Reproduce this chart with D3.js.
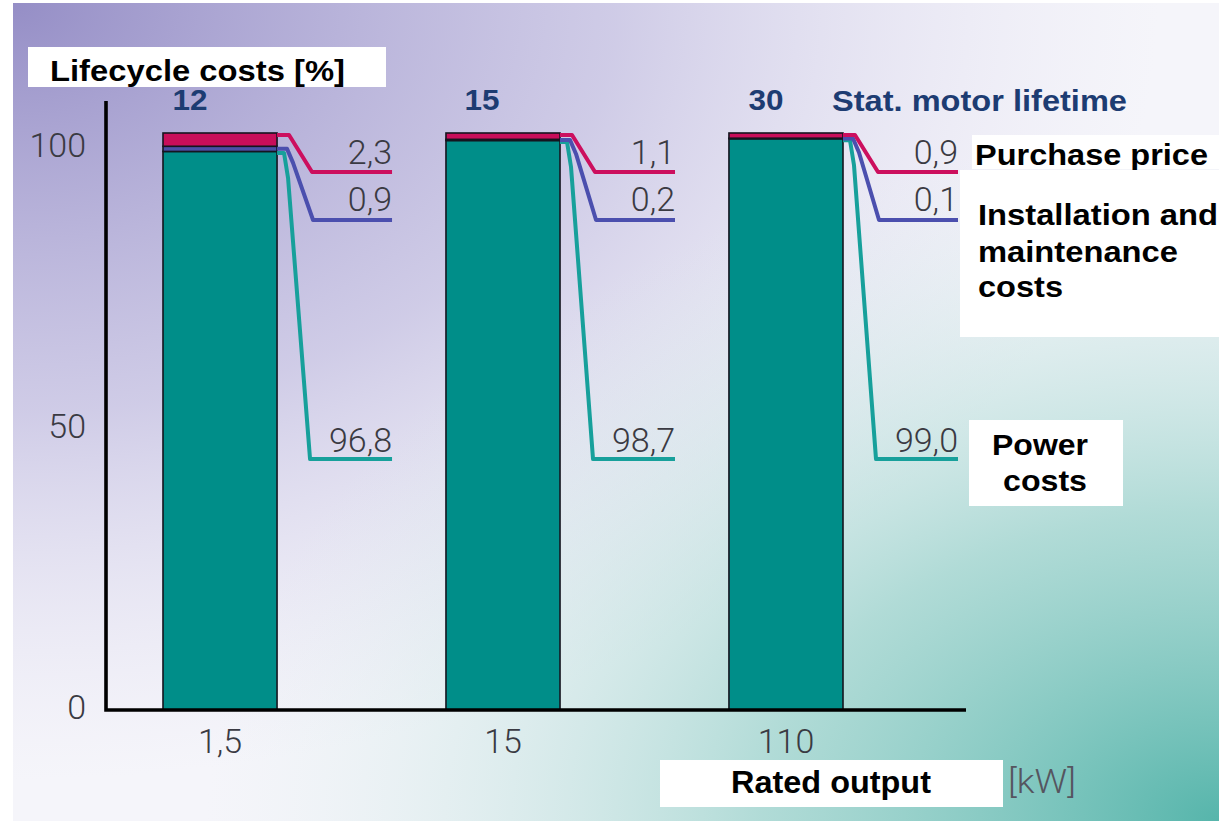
<!DOCTYPE html>
<html><head><meta charset="utf-8">
<script src="https://cdn.jsdelivr.net/npm/d3@7"></script>
<style>html,body{margin:0;padding:0;background:#fff;overflow:hidden}</style>
</head><body><svg id="chart" width="1226" height="823"></svg>
<script>
// ---- data ----
const categories = ["1,5", "15", "110"];          // rated output [kW]
const lifetimes = ["12", "15", "30"];             // stat. motor lifetime [years]
const purchasePrice = [2.3, 1.1, 0.9];
const installMaint = [0.9, 0.2, 0.1];
const powerCosts = [96.8, 98.7, 99.0];
const yTickValues = [0, 50, 100];

// ---- setup ----
const svg = d3.select("#chart");
const defs = svg.append("defs");
const numFont = "Roboto, Liberation Sans, Arial, sans-serif";
const boldFont = "Liberation Sans, Arial, sans-serif";

const gPurple = defs.append("radialGradient").attr("id", "gPurple")
  .attr("gradientUnits", "objectBoundingBox").attr("cx", 0).attr("cy", 0).attr("r", 1).attr("fx", 0).attr("fy", 0);
gPurple.append("stop").attr("offset", 0).attr("stop-color", "#958ec6").attr("stop-opacity", 1);
gPurple.append("stop").attr("offset", 0.5).attr("stop-color", "#b6b0da").attr("stop-opacity", 0.6);
gPurple.append("stop").attr("offset", 0.95).attr("stop-color", "#dcd8ee").attr("stop-opacity", 0);

const gTeal = defs.append("radialGradient").attr("id", "gTeal")
  .attr("gradientUnits", "objectBoundingBox").attr("cx", 1).attr("cy", 1).attr("r", 0.84).attr("fx", 1).attr("fy", 1);
gTeal.append("stop").attr("offset", 0).attr("stop-color", "#56b5ab").attr("stop-opacity", 1);
gTeal.append("stop").attr("offset", 0.45).attr("stop-color", "#96d1c9").attr("stop-opacity", 0.72);
gTeal.append("stop").attr("offset", 1).attr("stop-color", "#dceeec").attr("stop-opacity", 0);

const bg = { x: 13, y: 3, w: 1206, h: 818 };
svg.append("rect").attr("x", bg.x).attr("y", bg.y).attr("width", bg.w).attr("height", bg.h).attr("fill", "#f5f5fa");
svg.append("rect").attr("x", bg.x).attr("y", bg.y).attr("width", bg.w).attr("height", bg.h).attr("fill", "url(#gPurple)");
svg.append("rect").attr("x", bg.x).attr("y", bg.y).attr("width", bg.w).attr("height", bg.h).attr("fill", "url(#gTeal)");

// ---- scales ----
const x = d3.scaleBand().domain(categories).range([163, 843]).paddingInner(0.597).paddingOuter(0);
const yBar = d3.scaleLinear().domain([0, 100]).range([710, 133]);
const yTick = d3.scaleLinear().domain([0, 100]).range([708, 146]);

const keys = ["power", "install", "purchase"];
const colors = { power: "#008e89", install: "#4a4fa6", purchase: "#c80e5a" };
const lineColors = { power: "#17a09b", install: "#4b4fae", purchase: "#cc0f5e" };
const rows = categories.map((c, i) => ({ cat: c, power: powerCosts[i], install: installMaint[i], purchase: purchasePrice[i] }));
const stack = d3.stack().keys(keys)(rows);

const comma = d3.formatLocale({ decimal: ",", thousands: ".", grouping: [3], currency: ["", ""] }).format(".1f");

// ---- bars ----
const bw = x.bandwidth();
svg.append("g").selectAll("g").data(stack).join("g")
  .attr("fill", d => colors[d.key])
  .selectAll("rect").data(d => d).join("rect")
  .attr("x", d => x(d.data.cat))
  .attr("y", d => yBar(d[1]))
  .attr("width", bw)
  .attr("height", d => yBar(d[0]) - yBar(d[1]))
  .attr("stroke", "#15151f").attr("stroke-width", 1.6);

// ---- axes lines ----
svg.append("path").attr("d", d3.line()([[106, 101], [106, 710], [966, 710]]))
  .attr("fill", "none").attr("stroke", "#000").attr("stroke-width", 3.6).attr("stroke-linejoin", "miter");

// y tick labels
const yAx = svg.append("g").attr("transform", "translate(86,0)")
  .call(d3.axisLeft(yTick).tickValues(yTickValues).tickSize(0).tickPadding(0).tickFormat(d3.format("d")));
yAx.select(".domain").remove();
yAx.selectAll("text").attr("font-family", numFont).attr("font-weight", 300).attr("font-size", 34).attr("fill", "#3a3a42");

// x tick labels
const xAx = svg.append("g").attr("transform", "translate(0,753)")
  .call(d3.axisBottom(x).tickSize(0).tickPadding(0));
xAx.select(".domain").remove();
xAx.selectAll("text").attr("y", 0).attr("dy", 0)
  .attr("font-family", numFont).attr("font-weight", 300).attr("font-size", 34).attr("fill", "#3a3a42");

// ---- leader lines and value labels ----
const levels = { purchase: 172, install: 220, power: 459 };
const line = d3.line();
const leaderG = svg.append("g");
const lifeOffset = [27, 36, 37];
categories.forEach((c, i) => {
  const x0 = x(c) + bw;
  const xe = x0 + 115;
  const tot = powerCosts[i] + installMaint[i] + purchasePrice[i];
  const yRed = yBar(tot) + 2;
  const yBlue = yBar(powerCosts[i] + installMaint[i] / 2);
  const yTeal = yBar(powerCosts[i]) + 1.5;
  const specs = [
    { key: "power", pts: [[x0, yTeal], [x0 + 7, yTeal], [x0 + 11, yTeal + 25], [x0 + 33, levels.power], [xe, levels.power]], val: powerCosts[i], dy: -7 },
    { key: "install", pts: [[x0, yBlue], [x0 + 10, yBlue], [x0 + 16, yBlue + 14], [x0 + 36, levels.install], [xe, levels.install]], val: installMaint[i], dy: -9 },
    { key: "purchase", pts: [[x0, yRed], [x0 + 12, yRed], [x0 + 35, levels.purchase], [xe, levels.purchase]], val: purchasePrice[i], dy: -8 }
  ];
  specs.forEach(s => {
    leaderG.append("path").attr("d", line(s.pts)).attr("fill", "none")
      .attr("stroke", lineColors[s.key]).attr("stroke-width", 4).attr("stroke-linejoin", "round");
  });
  specs.forEach(s => {
    leaderG.append("text").attr("x", xe).attr("y", levels[s.key] + s.dy)
      .attr("text-anchor", "end").attr("font-family", numFont).attr("font-weight", 300)
      .attr("font-size", 34).attr("fill", "#3a3a42").text(comma(s.val));
  });
  // lifetime label
  svg.append("text").attr("x", x(c) + lifeOffset[i]).attr("y", 110).attr("text-anchor", "middle")
    .attr("font-family", boldFont).attr("font-weight", "bold")
    .attr("font-size", 29).attr("fill", "#1d3c72").attr("textLength", 35).attr("lengthAdjust", "spacingAndGlyphs")
    .text(lifetimes[i]);
});

// ---- text boxes ----
function box(x0, y0, w, h) {
  svg.append("rect").attr("x", x0).attr("y", y0).attr("width", w).attr("height", h).attr("fill", "#fff");
}
function label(t, x0, y0, len, opts = {}) {
  svg.append("text").attr("x", x0).attr("y", y0)
    .attr("font-family", opts.family || boldFont)
    .attr("font-weight", opts.weight || "bold").attr("font-size", opts.size || 30)
    .attr("fill", opts.fill || "#000").attr("text-anchor", opts.anchor || "start")
    .attr("textLength", len).attr("lengthAdjust", "spacingAndGlyphs").text(t);
}

box(28, 47, 358, 40);
label("Lifecycle costs [%]", 50, 81, 295, { size: 29 });

label("Stat. motor lifetime", 832, 111, 295, { fill: "#1d3c72", size: 29 });

box(972, 135, 254, 34);
label("Purchase price", 975, 165, 233);

box(960, 170, 266, 167);
label("Installation and", 978, 225, 240);
label("maintenance", 978, 262, 200);
label("costs", 978, 297, 85);

box(969, 420, 154, 86);
label("Power", 992, 455, 96);
label("costs", 1003, 491, 84);

box(660, 760, 343, 47);
label("Rated output", 731, 793, 200, { size: 31 });
label("[kW]", 1008, 793, 68, { weight: 300, size: 33, fill: "#55555f", family: numFont });
</script>
</body></html>
